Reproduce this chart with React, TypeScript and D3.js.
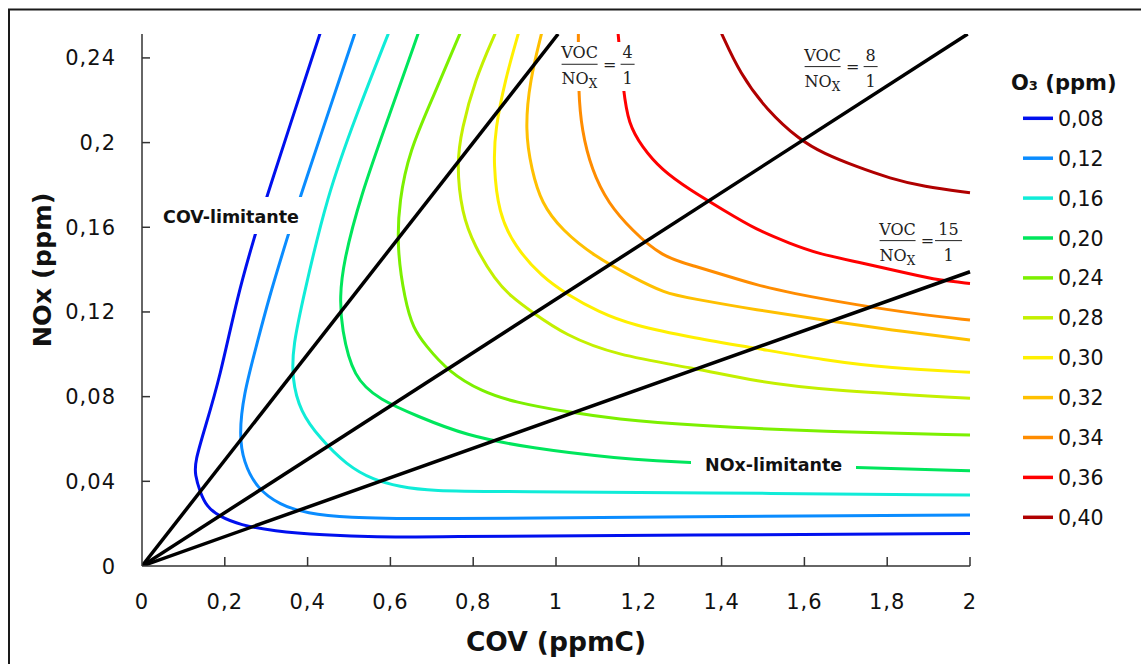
import React from "react";
import * as d3 from "d3";

// O3 isopleths, [COV (ppmC), NOx (ppm)]
const levels = ["0,08", "0,12", "0,16", "0,20", "0,24", "0,28", "0,30", "0,32", "0,34", "0,36", "0,40"];
const colors = ["#0010ee", "#0a8cff", "#10ecd8", "#00e65c", "#7cf000", "#c4f000", "#fff000", "#ffc000", "#ff8c00", "#ff0000", "#b00000"];

const c008 = [[0.43, 0.2515], [0.301, 0.1744], [0.273, 0.1564], [0.231, 0.128], [0.188, 0.0888], [0.152, 0.0652], [0.128, 0.0493], [0.128, 0.043], [0.14, 0.0351], [0.156, 0.028], [0.188, 0.0233], [0.237, 0.0194], [0.316, 0.0165], [0.437, 0.0146], [0.575, 0.0136], [0.671, 0.0138], [1.336, 0.0146], [2.0, 0.0154]];
const c012 = [[0.514, 0.2515], [0.382, 0.1744], [0.353, 0.1564], [0.305, 0.1256], [0.277, 0.1044], [0.245, 0.0808], [0.235, 0.0619], [0.245, 0.0493], [0.277, 0.0367], [0.333, 0.0288], [0.398, 0.0249], [0.494, 0.0228], [0.671, 0.0221], [1.336, 0.0233], [2.0, 0.0241]];
const c016 = [[0.595, 0.2515], [0.519, 0.2138], [0.446, 0.1744], [0.39, 0.1272], [0.365, 0.1044], [0.362, 0.0887], [0.382, 0.0729], [0.43, 0.0603], [0.494, 0.0477], [0.559, 0.0406], [0.623, 0.0375], [0.692, 0.0354], [0.901, 0.0351], [1.336, 0.0346], [2.0, 0.0335]];
const c020 = [[0.667, 0.2515], [0.599, 0.2138], [0.527, 0.1744], [0.486, 0.143], [0.478, 0.1272], [0.482, 0.1123], [0.51, 0.0888], [0.575, 0.0784], [0.664, 0.0709], [0.78, 0.0617], [0.941, 0.0556], [1.143, 0.0509], [1.326, 0.0485], [1.726, 0.0466], [2.0, 0.045]];
const c024 = [[0.768, 0.2515], [0.7, 0.2201], [0.647, 0.1965], [0.621, 0.1729], [0.616, 0.1493], [0.635, 0.1256], [0.655, 0.1123], [0.684, 0.1044], [0.74, 0.0918], [0.821, 0.0823], [0.901, 0.0773], [1.022, 0.0729], [1.143, 0.0694], [1.336, 0.0663], [1.645, 0.0634], [2.0, 0.0619]];
const c028 = [[0.853, 0.2515], [0.804, 0.2296], [0.772, 0.206], [0.76, 0.1902], [0.772, 0.1666], [0.804, 0.1508], [0.853, 0.1351], [0.893, 0.127], [0.941, 0.1201], [1.022, 0.1091], [1.143, 0.0997], [1.336, 0.0934], [1.485, 0.0871], [1.646, 0.0831], [2.0, 0.0792]];
const c030 = [[0.909, 0.2515], [0.877, 0.2296], [0.853, 0.206], [0.849, 0.1902], [0.861, 0.1666], [0.901, 0.1508], [0.965, 0.1367], [1.029, 0.128], [1.102, 0.1201], [1.183, 0.1138], [1.336, 0.1076], [1.485, 0.1028], [1.646, 0.0973], [1.807, 0.0934], [2.0, 0.0915]];
const c032 = [[0.965, 0.2515], [0.937, 0.2296], [0.925, 0.206], [0.941, 0.1871], [0.965, 0.1713], [1.014, 0.1587], [1.094, 0.1461], [1.183, 0.1367], [1.263, 0.1288], [1.324, 0.1265], [1.485, 0.1209], [1.646, 0.1162], [1.807, 0.1115], [2.0, 0.1068]];
const c034 = [[1.054, 0.2515], [1.054, 0.224], [1.062, 0.206], [1.086, 0.1871], [1.126, 0.1713], [1.183, 0.1587], [1.255, 0.1461], [1.336, 0.1416], [1.403, 0.1376], [1.485, 0.1327], [1.565, 0.129], [1.726, 0.1233], [1.887, 0.1186], [2.0, 0.1162]];
const c036 = [[1.15, 0.2515], [1.163, 0.224], [1.175, 0.2091], [1.207, 0.1981], [1.255, 0.1871], [1.324, 0.1776], [1.404, 0.1682], [1.485, 0.1587], [1.565, 0.1524], [1.63, 0.1477], [1.726, 0.1437], [1.847, 0.1383], [1.928, 0.1348], [2.0, 0.1335]];
const c040 = [[1.4, 0.2515], [1.444, 0.2327], [1.509, 0.2154], [1.589, 0.2012], [1.646, 0.1949], [1.726, 0.1886], [1.807, 0.1831], [1.887, 0.1792], [2.0, 0.1763]];
const curves = [c008, c012, c016, c020, c024, c028, c030, c032, c034, c036, c040];

// VOC/NOx reference lines (NOx = slope * COV)
const ratioNum = ["4", "8", "15"];
const ratioSlopes = [0.25, 0.126, 0.0695];
const ratioLabelPos = [[1.057, 0.237], [1.644, 0.2359], [1.825, 0.1537]];

const xTicks = [0, 0.2, 0.4, 0.6, 0.8, 1, 1.2, 1.4, 1.6, 1.8, 2];
const xTickLabels = ["0", "0,2", "0,4", "0,6", "0,8", "1", "1,2", "1,4", "1,6", "1,8", "2"];
const yTicks = [0, 0.04, 0.08, 0.12, 0.16, 0.2, 0.24];
const yTickLabels = ["0", "0,04", "0,08", "0,12", "0,16", "0,2", "0,24"];

const W = 1141, H = 664;
const SANS = "'DejaVu Sans', sans-serif";
const SERIF = "'DejaVu Serif', serif";

const x = d3.scaleLinear().domain([0, 2]).range([142, 970]);
const y = d3.scaleLinear().domain([0, 0.2513]).range([566, 34]);

const line = d3
  .line<number[]>()
  .x((d) => x(d[0]))
  .y((d) => y(d[1]))
  .curve(d3.curveBasis);

const Ratio = ({ cx, by, num }: { cx: number; by: number; num: string }) => {
  const nw = num.length > 1 ? 27 : 14;
  const dx = num.length > 1 ? 51 : 48;
  return (
    <g fontFamily={SERIF} fontSize={16} fill="#222">
      <text x={cx} y={by - 6} textAnchor="middle">VOC</text>
      <line x1={cx - 18} x2={cx + 18} y1={by} y2={by} stroke="#222" strokeWidth={1} />
      <text x={cx - 18} y={by + 20}>
        NO<tspan fontSize={12} dy={4}>X</tspan>
      </text>
      <text x={cx + 30} y={by + 5.5} textAnchor="middle">=</text>
      <text x={cx + dx} y={by - 6} textAnchor="middle">{num}</text>
      <line x1={cx + dx - nw / 2} x2={cx + dx + nw / 2} y1={by} y2={by} stroke="#222" strokeWidth={1} />
      <text x={cx + dx} y={by + 20} textAnchor="middle">1</text>
    </g>
  );
};

export default function App() {
  const [x0, x1] = x.range();
  const [y0, y1] = y.range();
  return (
    <svg width={W} height={H} style={{ position: "absolute", left: 0, top: 0, background: "#fff" }}>
      <rect x={9} y={9.5} width={1300} height={800} fill="none" stroke="#1a1a1a" strokeWidth={2} />
      <defs>
        <clipPath id="plot">
          <rect x={x0} y={y1} width={x1 - x0 + 2} height={y0 - y1} />
        </clipPath>
      </defs>

      <g clipPath="url(#plot)" fill="none" strokeWidth={3} strokeLinejoin="round">
        {curves.map((c, i) => (
          <path key={i} d={line(c) ?? ""} stroke={colors[i]} />
        ))}
      </g>

      {/* white boxes behind annotations */}
      <rect x={160} y={197} width={146} height={37} fill="#fff" />
      <rect x={691} y={452} width={165} height={27} fill="#fff" />
      <rect x={558} y={42} width={78} height={49} fill="#fff" />

      <g clipPath="url(#plot)" stroke="#000" strokeWidth={3.5}>
        {ratioSlopes.map((s, i) => {
          const xe = Math.min(2, y.domain()[1] / s);
          return <line key={i} x1={x(0)} y1={y(0)} x2={x(xe)} y2={y(s * xe)} />;
        })}
      </g>

      {ratioNum.map((n, i) => (
        <Ratio key={n} cx={x(ratioLabelPos[i][0])} by={y(ratioLabelPos[i][1])} num={n} />
      ))}

      <text x={x(0.051)} y={y(0.1622)} fontFamily={SANS} fontWeight="bold" fontSize={17.5} fill="#111">COV-limitante</text>
      <text x={x(1.36)} y={y(0.0449)} fontFamily={SANS} fontWeight="bold" fontSize={17.5} fill="#111">NOx-limitante</text>

      {/* axes */}
      <g stroke="#333" strokeWidth={1.5}>
        <line x1={x0} x2={x1} y1={y0} y2={y0} />
        <line x1={x0} x2={x0} y1={y0} y2={y1} />
        {xTicks.slice(1).map((t) => (
          <line key={t} x1={x(t)} x2={x(t)} y1={y0} y2={y0 - 9} />
        ))}
        {yTicks.slice(1).map((t) => (
          <line key={t} x1={x0} x2={x0 + 8} y1={y(t)} y2={y(t)} />
        ))}
      </g>
      <g fontFamily={SANS} fontSize={21} fill="#111" letterSpacing={1}>
        {xTicks.map((t, i) => (
          <text key={t} x={x(t)} y={609} textAnchor="middle">{xTickLabels[i]}</text>
        ))}
        {yTicks.map((t, i) => (
          <text key={t} x={116} y={y(t) + 7.5} textAnchor="end">{yTickLabels[i]}</text>
        ))}
      </g>
      <text x={556} y={651} textAnchor="middle" fontFamily={SANS} fontWeight="bold" fontSize={26.5} fill="#111">COV (ppmC)</text>
      <text transform="translate(41.5,270) rotate(-90)" textAnchor="middle" dominantBaseline="central" fontFamily={SANS} fontWeight="bold" fontSize={25.5} fill="#111">NOx (ppm)</text>

      {/* legend */}
      <text x={1011} y={90} fontFamily={SANS} fontWeight="bold" fontSize={21} fill="#111">O₃ (ppm)</text>
      {levels.map((l, i) => {
        const ly = 118.3 + i * 39.9;
        return (
          <g key={l}>
            <line x1={1023} x2={1053} y1={ly} y2={ly} stroke={colors[i]} strokeWidth={3.5} />
            <text x={1058} y={ly + 7.5} fontFamily={SANS} fontSize={20.5} fill="#111">{l}</text>
          </g>
        );
      })}
    </svg>
  );
}
